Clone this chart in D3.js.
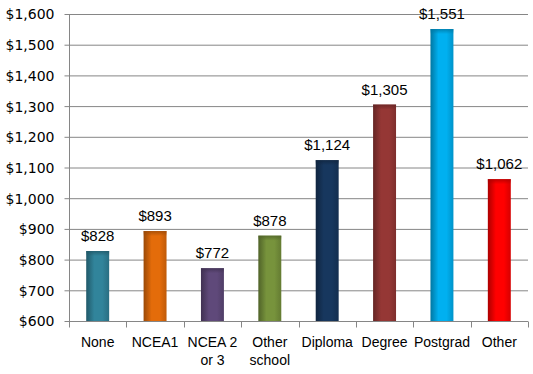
<!DOCTYPE html>
<html>
<head>
<meta charset="utf-8">
<script src="https://cdn.jsdelivr.net/npm/d3@7"></script>
<style>
  body { margin: 0; background: #fff; }
  .axis path, .axis line { stroke: #868686; }
  .ylab { font-family: Tahoma, "DejaVu Sans", sans-serif; font-size: 14px; fill: #000; }
  .xlab { font-family: "Liberation Sans Narrow", "Arial Narrow", "Liberation Sans", Arial, sans-serif; font-size: 14px; fill: #000; }
  .vlab { font-family: "Liberation Sans", Arial, sans-serif; font-size: 15px; fill: #000; }
</style>
</head>
<body>
<script>
// data
var categories = ["None", "NCEA1", "NCEA 2|or 3", "Other|school", "Diploma", "Degree", "Postgrad", "Other"];
var values = [828, 893, 772, 878, 1124, 1305, 1551, 1062];
var barColors = ["#31849b", "#e46c0a", "#5f497a", "#77933c", "#17375e", "#953735", "#00b0f0", "#ff0000"];
var yTicks = [600, 700, 800, 900, 1000, 1100, 1200, 1300, 1400, 1500, 1600];

var margin = {top: 14, right: 5, bottom: 53, left: 69},
    width = 533 - margin.left - margin.right,
    height = 374 - margin.top - margin.bottom;

var fmt = function(v) { return "$" + d3.format(",")(v); };

var svg = d3.select("body")
  .append("svg")
    .attr("width", 533)
    .attr("height", 374);

var defs = svg.append("defs");

var g = svg.append("g")
    .attr("transform", "translate(" + margin.left + "," + margin.top + ")");

// scales
var xMap = d3.scaleBand().domain(d3.range(categories.length)).range([0, width]).paddingInner(0.6).paddingOuter(0.3);
var band = d3.scaleBand().domain(d3.range(categories.length)).range([0, width]);
var yMap = d3.scaleLinear().domain([600, 1600]).range([height, 0]);

// gridlines
g.selectAll(".grid")
    .data(yTicks.slice(1))
  .enter().append("line")
    .attr("class", "grid")
    .attr("x1", 0).attr("x2", width)
    .attr("y1", function(d) { return yMap(d) + 0.5; })
    .attr("y2", function(d) { return yMap(d) + 0.5; })
    .style("stroke", "#868686");

// gradients for the bars
barColors.forEach(function(c, i) {
  var dark = d3.color(c).darker(1.1), mid = d3.color(c).darker(0.5);
  var lg = defs.append("linearGradient").attr("id", "grad" + i)
      .attr("x1", "0").attr("x2", "1").attr("y1", "0").attr("y2", "0");
  lg.append("stop").attr("offset", "0%").attr("stop-color", dark);
  lg.append("stop").attr("offset", "35%").attr("stop-color", c);
  lg.append("stop").attr("offset", "70%").attr("stop-color", c);
  lg.append("stop").attr("offset", "100%").attr("stop-color", mid);
  var tg = defs.append("linearGradient").attr("id", "top" + i)
      .attr("x1", "0").attr("x2", "0").attr("y1", "0").attr("y2", "1");
  tg.append("stop").attr("offset", "0%").attr("stop-color", dark).attr("stop-opacity", 0.8);
  tg.append("stop").attr("offset", "100%").attr("stop-color", dark).attr("stop-opacity", 0);
});

// bars
var bars = g.selectAll(".bar")
    .data(values)
  .enter().append("g")
    .attr("class", "bar");

bars.append("rect")
    .attr("x", function(d, i) { return xMap(i); })
    .attr("y", function(d) { return yMap(d); })
    .attr("width", xMap.bandwidth())
    .attr("height", function(d) { return height - yMap(d); })
    .style("fill", function(d, i) { return "url(#grad" + i + ")"; });

bars.append("rect")
    .attr("x", function(d, i) { return xMap(i); })
    .attr("y", function(d) { return yMap(d); })
    .attr("width", xMap.bandwidth())
    .attr("height", 5)
    .style("fill", function(d, i) { return "url(#top" + i + ")"; });

// value labels
g.selectAll(".vlab")
    .data(values)
  .enter().append("text")
    .attr("class", "vlab")
    .attr("x", function(d, i) { return xMap(i) + xMap.bandwidth() / 2; })
    .attr("y", function(d) { return yMap(d) - 10; })
    .style("text-anchor", "middle")
    .text(fmt);

// y axis
var yAxis = d3.axisLeft(yMap).tickValues(yTicks).tickSize(5).tickPadding(10).tickFormat(fmt);
var ya = g.append("g").attr("class", "axis").attr("transform", "translate(0.5,0)").call(yAxis);
ya.selectAll("text").attr("class", "ylab").attr("dy", "0.35em");
ya.select(".domain").attr("d", "M0," + yMap(1600) + "V" + height);

// x axis
var xAxis = d3.axisBottom(band).tickSize(0).tickFormat("");
var xa = g.append("g").attr("class", "axis").attr("transform", "translate(0," + (height + 0.5) + ")").call(xAxis);
xa.select(".domain").attr("d", "M0,0H" + width);
xa.selectAll(".sep")
    .data(d3.range(categories.length + 1))
  .enter().append("line")
    .attr("class", "sep")
    .attr("x1", function(d) { return Math.round(d * band.step()) + 0.5; })
    .attr("x2", function(d) { return Math.round(d * band.step()) + 0.5; })
    .attr("y1", 0).attr("y2", 6);

// category labels
var cl = g.selectAll(".xlab")
    .data(categories)
  .enter().append("text")
    .attr("class", "xlab")
    .attr("transform", function(d, i) { return "translate(" + (band(i) + band.bandwidth() / 2) + "," + (height + 26) + ")"; })
    .style("text-anchor", "middle");
cl.selectAll("tspan")
    .data(function(d) { return d.split("|"); })
  .enter().append("tspan")
    .attr("x", 0)
    .attr("dy", function(d, i) { return i ? 18 : 0; })
    .text(function(d) { return d; });
</script>
</body>
</html>
